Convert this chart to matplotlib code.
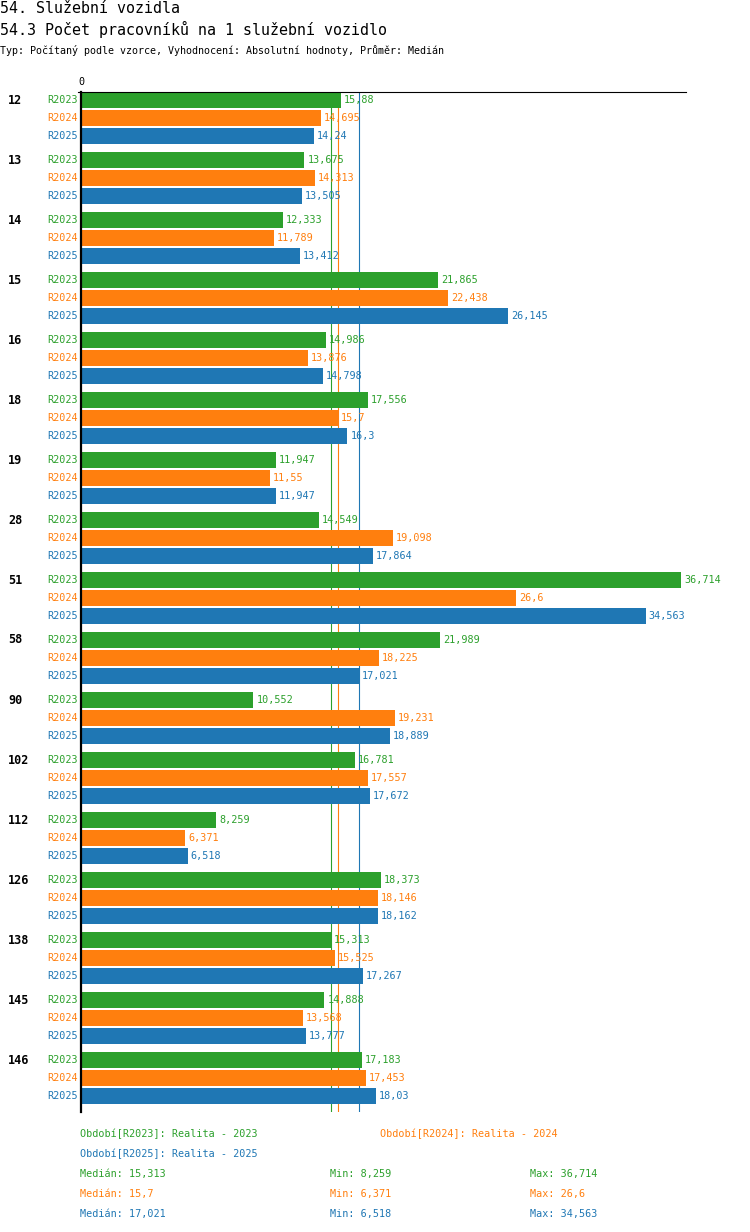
import numpy as np
import matplotlib
matplotlib.use("Agg")
import matplotlib.pyplot as plt

groups = ["12", "13", "14", "15", "16", "18", "19", "28", "51", "58", "90", "102", "112", "126", "138", "145", "146"]
series = ["R2023", "R2024", "R2025"]
r2023 = [15.88, 13.675, 12.333, 21.865, 14.986, 17.556, 11.947, 14.549, 36.714, 21.989, 10.552, 16.781, 8.259, 18.373, 15.313, 14.888, 17.183]
r2024 = [14.695, 14.313, 11.789, 22.438, 13.876, 15.7, 11.55, 19.098, 26.6, 18.225, 19.231, 17.557, 6.371, 18.146, 15.525, 13.568, 17.453]
r2025 = [14.24, 13.505, 13.412, 26.145, 14.798, 16.3, 11.947, 17.864, 34.563, 17.021, 18.889, 17.672, 6.518, 18.162, 17.267, 13.777, 18.03]
legend_names = ["Období[R2023]: Realita - 2023", "Období[R2024]: Realita - 2024", "Období[R2025]: Realita - 2025"]
colors = ["#2ca02c", "#ff7f0e", "#1f77b4"]

title1 = "54. Služební vozidla"
title2 = "54.3 Počet pracovníků na 1 služební vozidlo"
subtitle = "Typ: Počítaný podle vzorce, Vyhodnocení: Absolutní hodnoty, Průměr: Medián"

W, H = 750, 1232
fig = plt.figure(figsize=(W / 100, H / 100), dpi=100)
mono = ["DejaVu Sans Mono"]

def fmt(v):
    return f"{v:.3f}".rstrip("0").rstrip(".").replace(".", ",")

def ftext(x, y, s, **kw):
    fig.text(x / W, 1 - y / H, s, **kw)

# axes in pixel layout: x=0 at px 81, top at 92, bottom at 1112
ax_left, ax_right, ax_top, ax_bot = 81, 686, 92, 1112
ax = fig.add_axes([ax_left / W, 1 - ax_bot / H, (ax_right - ax_left) / W, (ax_bot - ax_top) / H])
scale = 600 / 36.714
ax.set_xlim(0, (ax_right - ax_left) / scale)
ax.set_ylim(ax_bot, ax_top)
ax.axis("off")

data = [r2023, r2024, r2025]
n = len(groups)
first_center, group_step, bar_step, bar_h = 100, 60, 18, 16

# median lines
for j, vals in enumerate(data):
    m = float(np.median(vals))
    ax.plot([m, m], [ax_top, ax_bot], color=colors[j], lw=0.8, zorder=1)

for i in range(n):
    yc = first_center + group_step * i
    ftext(8, yc, groups[i], ha="left", va="center", fontsize=8.5, fontweight="bold", family=mono)
    for j, vals in enumerate(data):
        y = yc + bar_step * j
        ax.barh(y, vals[i], height=bar_h, color=colors[j], zorder=2, linewidth=0)
        ax.text(vals[i] + 3 / scale, y, fmt(vals[i]), color=colors[j], fontsize=7.3,
                va="center", ha="left", family=mono, zorder=3)
        ftext(78, y, series[j], color=colors[j], ha="right", va="center", fontsize=7.3, family=mono)

# axis lines
ax.plot([-3 / scale, ax.get_xlim()[1]], [ax_top, ax_top], color="black", lw=0.8, zorder=4, clip_on=False)
ax.plot([0, 0], [ax_top, ax_bot], color="black", lw=1.6, zorder=4, clip_on=False)
ftext(81, 82, "0", ha="center", va="center", fontsize=7.3, family=mono)

# titles
ftext(0, 13, title1, ha="left", va="baseline", fontsize=10.8, family=mono)
ftext(0, 35, title2, ha="left", va="baseline", fontsize=10.8, family=mono)
ftext(0, 54, subtitle, ha="left", va="baseline", fontsize=7.2, family=mono)

# legend
ftext(80, 1134, legend_names[0], color=colors[0], ha="left", va="center", fontsize=7.3, family=mono)
ftext(380, 1134, legend_names[1], color=colors[1], ha="left", va="center", fontsize=7.3, family=mono)
ftext(80, 1154, legend_names[2], color=colors[2], ha="left", va="center", fontsize=7.3, family=mono)
for j, vals in enumerate(data):
    y = 1174 + 20 * j
    ftext(80, y, "Medián: " + fmt(float(np.median(vals))), color=colors[j], ha="left", va="center", fontsize=7.3, family=mono)
    ftext(330, y, "Min: " + fmt(min(vals)), color=colors[j], ha="left", va="center", fontsize=7.3, family=mono)
    ftext(530, y, "Max: " + fmt(max(vals)), color=colors[j], ha="left", va="center", fontsize=7.3, family=mono)

fig.savefig("out.png", dpi=100, facecolor="white")
